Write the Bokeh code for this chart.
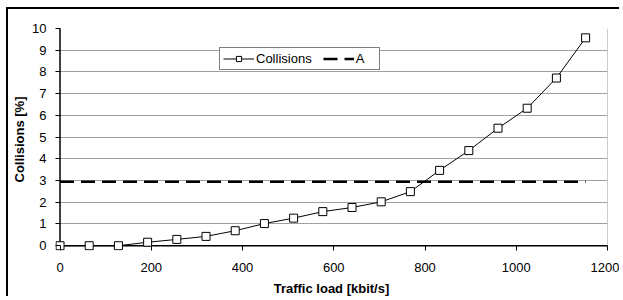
from bokeh.plotting import figure
from bokeh.models import Range1d, SingleIntervalTicker, Legend, LegendItem
from bokeh.embed import file_html
from bokeh.resources import INLINE

# Data
traffic_load = [0, 64, 128, 192, 256, 320, 384, 448, 512, 576, 640, 704, 768,
                832, 896, 960, 1024, 1088, 1152]
collisions = [0.0, 0.0, 0.0, 0.16, 0.29, 0.43, 0.69, 1.02, 1.27, 1.57, 1.76,
              2.02, 2.49, 3.47, 4.38, 5.41, 6.33, 7.72, 9.57]
threshold_x = [0, 1152]
threshold_y = [2.95, 2.95]
x_min, x_max, x_step = 0, 1200, 200
y_min, y_max, y_step = 0, 10, 1

FONT = "Liberation Sans"
FS = "13px"

p = figure(width=613, height=289, output_backend="svg", toolbar_location=None,
           x_range=Range1d(-9.9, x_max), y_range=Range1d(-0.22, y_max),
           min_border_left=47, min_border_right=14, min_border_top=19,
           min_border_bottom=47)
p.styles = {"border-left": "2px solid black", "border-top": "2px solid black",
            "border-right": "0px none transparent",
            "border-bottom": "0px none transparent",
            "margin-left": "6px", "margin-top": "7px"}

p.background_fill_color = "white"
p.border_fill_color = "white"
p.outline_line_color = None

# grid
p.xgrid.grid_line_color = None
p.ygrid.grid_line_color = "#a0a0a0"
p.ygrid.grid_line_width = 1
p.ygrid.bounds = (x_min, x_max)

# axes (ticks drawn inward from the slightly extended frame edge)
p.xaxis.ticker = SingleIntervalTicker(interval=x_step)
p.yaxis.ticker = SingleIntervalTicker(interval=y_step)
for ax in (p.xaxis[0], p.yaxis[0]):
    ax.axis_line_color = None
    ax.major_tick_line_color = "black"
    ax.major_tick_line_width = 1
    ax.major_tick_out = 0
    ax.minor_tick_line_color = None
    ax.major_label_text_font = FONT
    ax.major_label_text_font_size = FS
    ax.major_label_text_color = "black"
    ax.axis_label_text_font = FONT
    ax.axis_label_text_font_size = FS
    ax.axis_label_text_font_style = "bold"
    ax.axis_label_text_color = "black"
p.xaxis.major_tick_in = 5
p.yaxis.major_tick_in = 5

p.xaxis.axis_label = "Traffic load [kbit/s]"
p.yaxis.axis_label = "Collisions [%]"
p.xaxis.major_label_standoff = 8
p.xaxis.axis_label_standoff = 6
p.yaxis.major_label_standoff = 5
p.yaxis.axis_label_standoff = 2

# plot-area frame: right border (grey) and axis lines (black)
p.line([x_max, x_max], [y_min, y_max], line_color="#9a9a9a", line_width=1)
p.line([x_min, x_max], [y_min, y_min], line_color="black", line_width=1.5)
p.line([x_min, x_min], [y_min, y_max], line_color="black", line_width=1.5)

# series
l1 = p.line(traffic_load, collisions, line_color="black", line_width=1)
s1 = p.scatter(traffic_load, collisions, marker="square", size=8,
               fill_color="white", line_color="black", line_width=1)
l2 = p.line(threshold_x, threshold_y, line_color="black", line_width=2.5,
            line_dash="14 7")

legend = Legend(items=[LegendItem(label="Collisions", renderers=[l1, s1]),
                       LegendItem(label="A", renderers=[l2])],
                orientation="horizontal", location=(164, 180))
legend.border_line_color = "black"
legend.border_line_width = 1
legend.background_fill_color = "white"
legend.background_fill_alpha = 1
legend.label_text_font = FONT
legend.label_text_font_size = FS
legend.label_text_color = "black"
legend.label_standoff = 2
legend.glyph_width = 31
legend.glyph_height = 13
legend.spacing = 11
legend.padding = 3
legend.margin = 0
legend.label_height = 13
p.add_layout(legend, "center")

open("out.html", "w").write(file_html(p, INLINE))
